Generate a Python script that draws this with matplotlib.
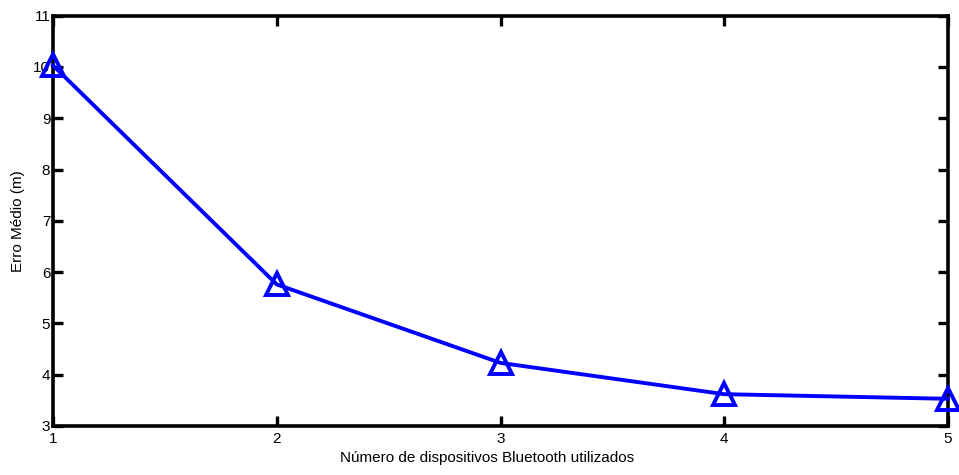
import matplotlib
matplotlib.use('Agg')
import matplotlib.pyplot as plt

plt.rcParams['font.family'] = ['Liberation Sans', 'DejaVu Sans']

devices = [1, 2, 3, 4, 5]
mean_error = [10.03, 5.76, 4.23, 3.62, 3.53]

fig = plt.figure(figsize=(9.59, 4.75), dpi=100)
ax = fig.add_axes([0.0553, 0.1032, 0.9332, 0.8638])

ax.plot(devices, mean_error, color='blue', linewidth=2.8, marker='^',
        markersize=16, markerfacecolor='none', markeredgewidth=2.8,
        clip_on=False, zorder=5)

ax.set_xlim(1, 5)
ax.set_ylim(3, 11)
ax.set_xticks(devices)
ax.set_yticks(range(3, 12))
ax.tick_params(direction='in', length=7, width=2.4, top=True, right=True,
               labelsize=11, pad=4)
ax.tick_params(axis='y', pad=2)
for s in ax.spines.values():
    s.set_linewidth(2.6)

ax.set_xlabel('Número de dispositivos Bluetooth utilizados', fontsize=11)
ax.xaxis.set_label_coords(0.4855, -0.062)
ax.set_ylabel('Erro Médio (m)', fontsize=11, labelpad=6)

fig.savefig('out.png', dpi=100)
